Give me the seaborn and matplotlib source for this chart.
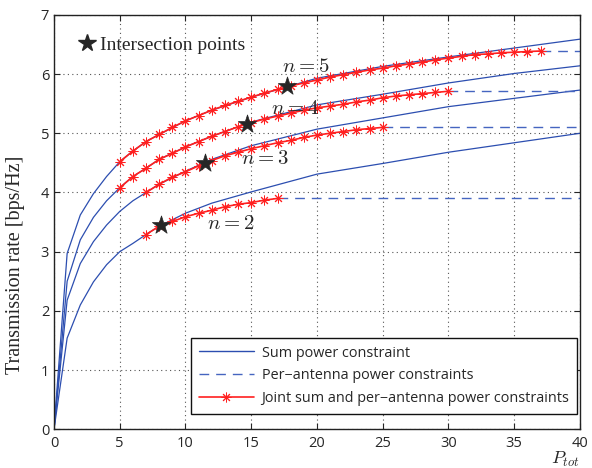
import numpy as np
import pandas as pd
import matplotlib
matplotlib.use("Agg")
import matplotlib.pyplot as plt
import seaborn as sns
from matplotlib.lines import Line2D

x_sum = [0, 1, 2, 3, 4, 5, 6, 7, 8, 10, 12, 15, 20, 25, 30, 35, 40]
sum_n2 = [0, 1.54, 2.10, 2.49, 2.78, 3.00, 3.14, 3.29, 3.43, 3.65, 3.82, 4.01, 4.31, 4.49, 4.68, 4.84, 5.00]
sum_n3 = [0, 2.18, 2.80, 3.17, 3.45, 3.68, 3.86, 4.00, 4.14, 4.36, 4.56, 4.79, 5.07, 5.26, 5.45, 5.59, 5.73]
sum_n4 = [0, 2.50, 3.20, 3.58, 3.86, 4.08, 4.27, 4.41, 4.56, 4.77, 4.95, 5.19, 5.48, 5.66, 5.85, 6.01, 6.14]
sum_n5 = [0, 2.97, 3.62, 3.98, 4.27, 4.52, 4.70, 4.86, 4.98, 5.21, 5.39, 5.61, 5.93, 6.13, 6.29, 6.44, 6.59]

# Joint sum and per-antenna constraints (red, one marker per unit of P_tot)
x_joint_n2 = list(range(7, 18))
joint_n2 = [3.29, 3.43, 3.51, 3.59, 3.65, 3.70, 3.76, 3.80, 3.83, 3.87, 3.90]
x_joint_n3 = list(range(7, 26))
joint_n3 = [4.00, 4.14, 4.26, 4.35, 4.45, 4.54, 4.62, 4.68, 4.74, 4.79,
            4.84, 4.88, 4.93, 4.97, 5.00, 5.03, 5.06, 5.08, 5.10]
x_joint_n4 = list(range(5, 31))
joint_n4 = [4.08, 4.27, 4.41, 4.56, 4.66, 4.77, 4.86, 4.95, 5.03, 5.11,
            5.18, 5.24, 5.29, 5.34, 5.39, 5.43, 5.46, 5.49, 5.53, 5.56,
            5.60, 5.63, 5.65, 5.67, 5.69, 5.71]
x_joint_n5 = list(range(5, 38))
joint_n5 = [4.52, 4.70, 4.86, 4.98, 5.10, 5.21, 5.30, 5.39, 5.47, 5.54,
            5.61, 5.68, 5.74, 5.80, 5.85, 5.90, 5.95, 5.99, 6.03, 6.07,
            6.10, 6.14, 6.17, 6.20, 6.24, 6.27, 6.30, 6.33, 6.34, 6.36,
            6.37, 6.38, 6.39]

# Per-antenna constraint levels (dashed) start where the joint curve ends
per_antenna_start = [17, 25, 30, 37]
per_antenna_level = [3.90, 5.10, 5.71, 6.39]

# Intersection points
inter_x = [8.1, 11.5, 14.65, 17.7]
inter_y = [3.45, 4.50, 5.16, 5.80]

labels_n = ["$n=2$", "$n=3$", "$n=4$", "$n=5$"]
label_x = [11.6, 14.2, 16.5, 17.35]
label_y = [3.48, 4.57, 5.42, 6.12]

X_MAX = 40

sns.set_style("ticks")
plt.rcParams["font.family"] = ["Open Sans", "DejaVu Sans"]
plt.rcParams["mathtext.fontset"] = "cm"

BLUE = "#2c4eb0"
DASH_BLUE = "#4565c0"
RED = "#ff2020"
ASTERISK = (8, 2, 0)

fig = plt.figure(figsize=(5.92, 4.68), dpi=100)
ax = fig.add_axes([0.0912, 0.0827, 0.8885, 0.8855])

sum_curves = [sum_n2, sum_n3, sum_n4, sum_n5]
joint_x = [x_joint_n2, x_joint_n3, x_joint_n4, x_joint_n5]
joint_y = [joint_n2, joint_n3, joint_n4, joint_n5]

for i in range(4):
    df_sum = pd.DataFrame({"P": x_sum, "R": sum_curves[i]})
    sns.lineplot(data=df_sum, x="P", y="R", ax=ax, color=BLUE, linewidth=0.9,
                 legend=False, zorder=2)

    df_pa = pd.DataFrame({"P": [per_antenna_start[i], X_MAX],
                          "R": [per_antenna_level[i], per_antenna_level[i]]})
    sns.lineplot(data=df_pa, x="P", y="R", ax=ax, color=DASH_BLUE, linewidth=1.0,
                 legend=False, zorder=2).lines[-1].set_dashes((7, 5))

    df_joint = pd.DataFrame({"P": joint_x[i], "R": joint_y[i]})
    sns.lineplot(data=df_joint, x="P", y="R", ax=ax, color=RED, linewidth=1.2,
                 marker=ASTERISK, markersize=7, markeredgewidth=0.7,
                 markeredgecolor=RED, legend=False, zorder=3)

    ax.text(label_x[i], label_y[i], labels_n[i], fontsize=15, va="center",
            ha="left", zorder=5)

df_inter = pd.DataFrame({"P": inter_x, "R": inter_y})
sns.scatterplot(data=df_inter, x="P", y="R", ax=ax, marker="*", s=190,
                color="#262626", edgecolor="#262626", linewidth=0.5, zorder=6,
                legend=False)

ax.set_xlim(0, X_MAX)
ax.set_ylim(0, 7)
ax.set_xticks(range(0, 41, 5))
ax.set_yticks(range(0, 8))
ax.grid(True, linestyle=(0, (1, 3)), color="#555555", linewidth=0.8)
ax.tick_params(direction="in", top=True, right=True, labelsize=10.5, length=4)
ax.tick_params(axis="x", pad=5)
for s in ax.spines.values():
    s.set_linewidth(1.0)
    s.set_color("#222222")

ax.set_xlabel("")
ax.set_ylabel("Transmission rate [bps/Hz]", family=["Liberation Serif"],
              fontsize=14.5)
ax.yaxis.set_label_coords(-0.055, 0.396)
ax.text(0.972, -0.074, "$P_{tot}$", transform=ax.transAxes, fontsize=13,
        ha="center", va="center")

# top-left legend for intersection points
star_handle = Line2D([], [], linestyle="none", marker="*", markersize=13,
                     color="#262626")
leg1 = ax.legend([star_handle], ["Intersection points"], loc="upper left",
                 frameon=False, prop={"family": "Liberation Serif", "size": 14},
                 handletextpad=0.05, borderaxespad=0.7, handlelength=1.2)
ax.add_artist(leg1)

handles = [
    Line2D([], [], color=BLUE, linewidth=1.0),
    Line2D([], [], color=DASH_BLUE, linewidth=1.0, dashes=(7, 5)),
    Line2D([], [], color=RED, linewidth=1.2, marker=ASTERISK, markersize=7,
           markeredgewidth=0.7, markeredgecolor=RED),
]
names = ["Sum power constraint", "Per\u2212antenna power constraints",
         "Joint sum and per\u2212antenna power constraints"]
leg2 = ax.legend(handles, names, loc="lower right",
                 bbox_to_anchor=(0.995, 0.036), borderaxespad=0,
                 fontsize=10.4, frameon=True, fancybox=False,
                 edgecolor="#111111", framealpha=1, handlelength=3.8,
                 borderpad=0.55, labelspacing=0.55, handletextpad=0.55)
leg2.get_frame().set_linewidth(1.0)

fig.savefig("out.png", dpi=100)
